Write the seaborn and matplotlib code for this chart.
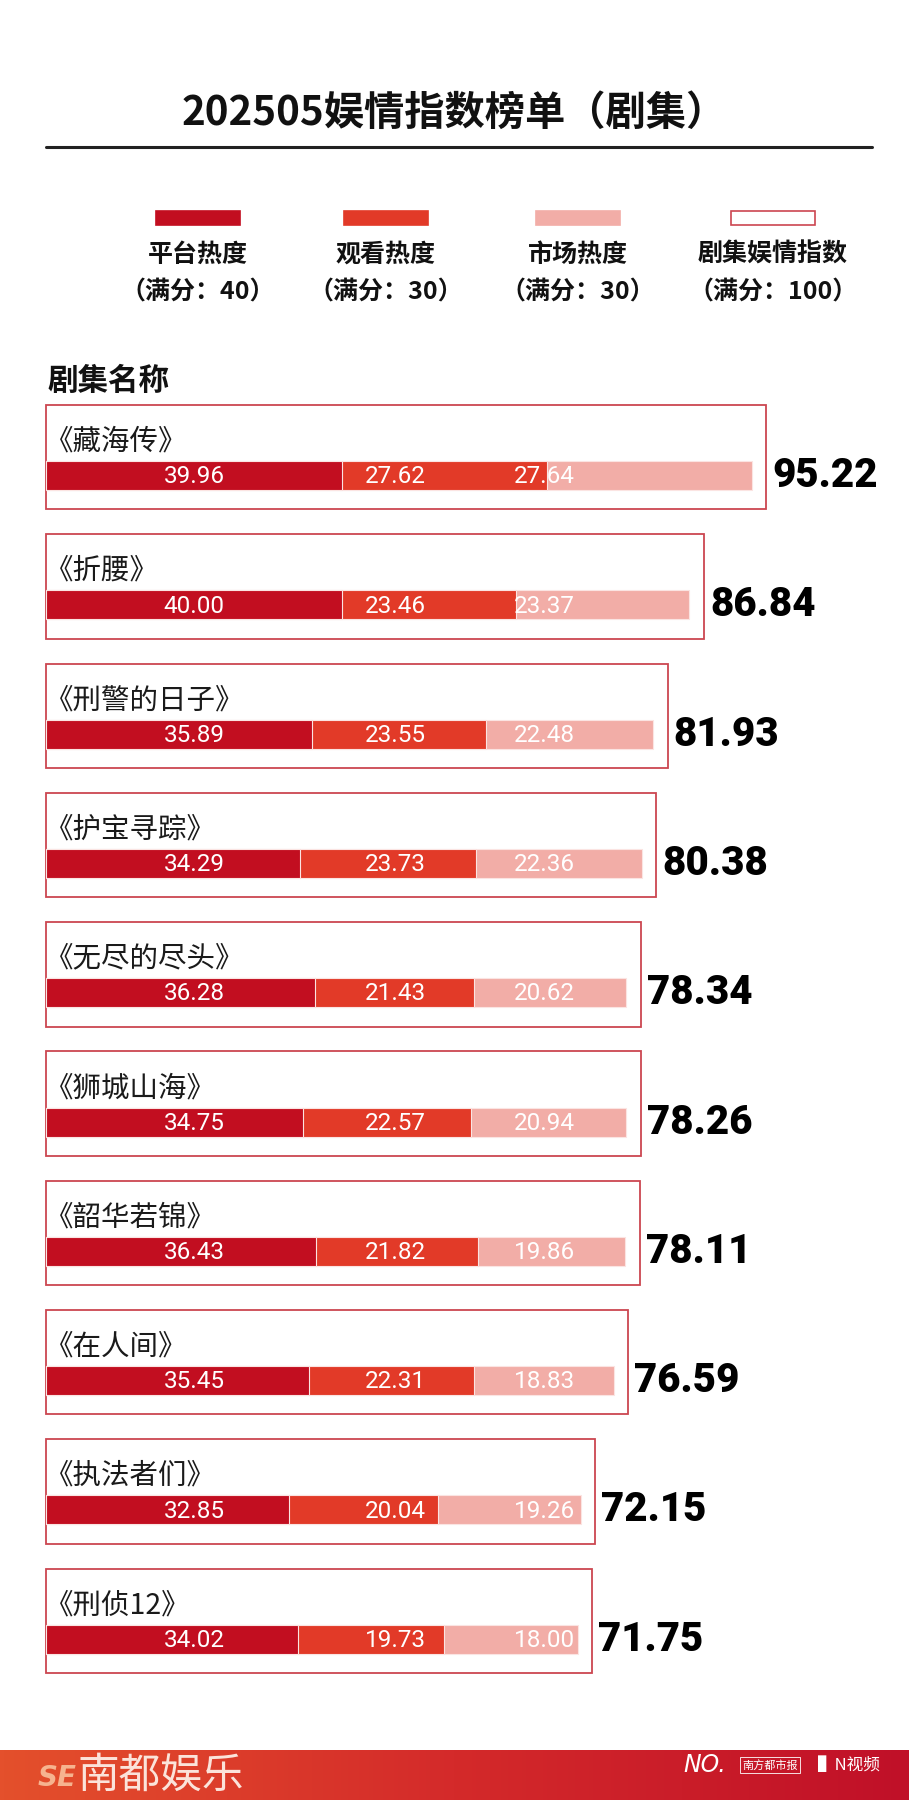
"""202505 娱情指数榜单（剧集）— stacked bar ranking recreated with seaborn."""

import matplotlib.pyplot as plt
import numpy as np
import pandas as pd
import seaborn as sns
from matplotlib.patches import Rectangle

SHOWS = ["《藏海传》", "《折腰》", "《刑警的日子》", "《护宝寻踪》", "《无尽的尽头》",
         "《狮城山海》", "《韶华若锦》", "《在人间》", "《执法者们》", "《刑侦12》"]
PLATFORM = [39.96, 40.00, 35.89, 34.29, 36.28, 34.75, 36.43, 35.45, 32.85, 34.02]
VIEWING = [27.62, 23.46, 23.55, 23.73, 21.43, 22.57, 21.82, 22.31, 20.04, 19.73]
MARKET = [27.64, 23.37, 22.48, 22.36, 20.62, 20.94, 19.86, 18.83, 19.26, 18.00]
TOTAL = ["95.22", "86.84", "81.93", "80.38", "78.34", "78.26", "78.11", "76.59", "72.15", "71.75"]

LEGEND_NAMES = ["平台热度", "观看热度", "市场热度", "剧集娱情指数"]
LEGEND_MAX = ["（满分：40）", "（满分：30）", "（满分：30）", "（满分：100）"]

TITLE = "202505娱情指数榜单（剧集）"

DARK = "#C20E20"
MID = "#E23A28"
LIGHT = "#F2ADA7"
BOX = "#CC4650"

W, H = 909, 1800


def fy(py):
    return 1 - py / H


def fx(px):
    return px / W


def main() -> None:
    sns.set_style("white")
    plt.rcParams["font.family"] = ["Noto Sans CJK SC", "DejaVu Sans"]
    digits = ["Roboto", "DejaVu Sans"]

    df = pd.DataFrame({"show": SHOWS, "platform": PLATFORM,
                       "viewing": VIEWING, "market": MARKET})
    df["c2"] = df["platform"] + df["viewing"]
    df["c3"] = df["c2"] + df["market"]

    fig = plt.figure(figsize=(W / 100, H / 100), dpi=100)
    fig.patch.set_facecolor("white")

    # title + rule
    fig.text(0.5, fy(113), TITLE, ha="center", va="center", fontsize=29,
             fontweight="bold", color="#111111")
    fig.add_artist(plt.Line2D([fx(46), fx(872)], [fy(147), fy(147)],
                              color="#222222", linewidth=2.2))

    # legend
    centers = [198, 386, 578, 773]
    fills = [DARK, MID, LIGHT, "white"]
    for cx, fc, name, mx in zip(centers, fills, LEGEND_NAMES, LEGEND_MAX):
        fig.add_artist(Rectangle((fx(cx - 42), fy(225)), fx(84), 14 / H,
                                 facecolor=fc, edgecolor=BOX if fc == "white" else fc,
                                 linewidth=1.2, transform=fig.transFigure))
        fig.text(fx(cx), fy(255), name, ha="center", va="center", fontsize=18,
                 fontweight="bold", color="#111111")
        fig.text(fx(cx), fy(293), mx, ha="center", va="center", fontsize=18,
                 fontweight="bold", color="#111111")

    fig.text(fx(47), fy(381), "剧集名称", ha="left", va="center", fontsize=22,
             fontweight="bold", color="#111111")

    # main chart: value axis along x, one category per row
    ax = fig.add_axes([fx(46), fy(1700), fx(W - 46), (1700 - 390) / H])
    bar_h = 29 / 129.3
    for col, color in [("c3", LIGHT), ("c2", MID), ("platform", DARK)]:
        sns.barplot(data=df, x=col, y="show", orient="h", color=color,
                    saturation=1, width=bar_h, edgecolor="#FBE4E2",
                    linewidth=0.8, ax=ax)

    label_cols = [20.0, 47.2, 67.3]
    for i, row in df.iterrows():
        right = row["c3"] + 2.0
        ax.add_patch(Rectangle((0, i - 0.546), right, 104.4 / 129.3,
                               facecolor="none", edgecolor=BOX, linewidth=1.3,
                               clip_on=False, zorder=0))
        ax.text(-0.1, i - 0.262, row["show"], ha="left", va="center",
                fontsize=20.5, color="#1a1a1a")
        for xc, v in zip(label_cols, (row["platform"], row["viewing"], row["market"])):
            ax.text(xc, i + 0.01, f"{v:.2f}", ha="center", va="center",
                    fontsize=17.5, color="white", family=digits)
        ax.text(right + 0.8, i, TOTAL[i], ha="left", va="center", fontsize=29,
                fontweight="black", color="black", family=digits)

    ax.set_xlim(0, (W - 46) / 7.41)
    ax.set_ylim((1700 - 475.5) / 129.3, (390 - 475.5) / 129.3)
    ax.axis("off")

    # footer band
    fax = fig.add_axes([0, 0, 1, 50 / H])
    grad = np.linspace(0, 1, 256).reshape(1, -1)
    cmap = sns.blend_palette(["#E4502C", "#D42A2A", "#C01028"], as_cmap=True)
    fax.imshow(grad, aspect="auto", cmap=cmap, extent=[0, 1, 0, 1])
    fax.axis("off")
    fig.text(fx(38), fy(1778), "SE", ha="left", va="center", fontsize=20,
             fontweight="bold", color="#F6B38F", fontstyle="italic",
             family=["DejaVu Sans"])
    fig.text(fx(78), fy(1776), "南都娱乐", ha="left", va="center", fontsize=30,
             color="#FBE3DA")
    fig.text(fx(683), fy(1765), "NO.", ha="left", va="center", fontsize=17,
             color="white", fontstyle="italic", family=["DejaVu Sans"])
    fig.text(fx(742), fy(1765), "南方都市报", ha="left", va="center", fontsize=8,
             color="white", bbox=dict(boxstyle="square,pad=0.2", fc="none",
                                       ec="white", lw=0.6))
    fig.text(fx(818), fy(1766), "▌N视频", ha="left", va="center", fontsize=12,
             color="white", family=["Noto Sans CJK SC", "DejaVu Sans"])

    fig.savefig("out.png", dpi=100, facecolor="white")
    plt.close(fig)


if __name__ == "__main__":
    main()
